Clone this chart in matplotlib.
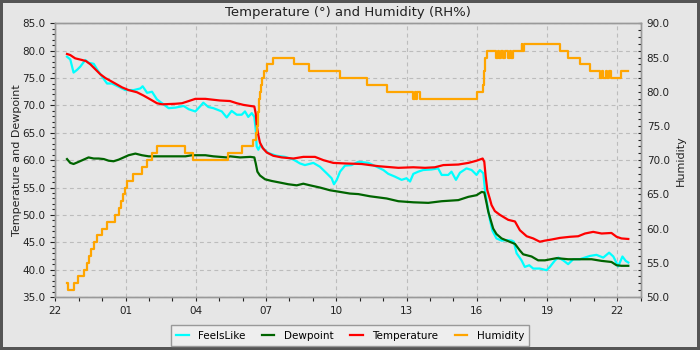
import matplotlib
matplotlib.use("Agg")
import matplotlib.pyplot as plt
from matplotlib.ticker import MultipleLocator, FormatStrFormatter

# hours since 22:00 on the first day
hour_ticks = [0, 3, 6, 9, 12, 15, 18, 21, 24]
hour_labels = ["22", "01", "04", "07", "10", "13", "16", "19", "22"]

temp_t = [0.50, 0.64, 0.85, 1.14, 1.31, 1.50, 1.71, 1.92, 2.14, 2.35, 2.56, 2.85,
          3.13, 3.49, 3.77, 4.06, 4.34, 4.56, 5.13, 5.41, 5.70, 5.98, 6.41, 6.61,
          7.03, 7.46, 7.75, 8.03, 8.33, 8.50, 8.56, 8.60, 8.67, 8.74, 8.86, 9.03,
          9.31, 9.67, 10.17, 10.59, 11.09, 11.45, 11.87, 12.37, 13.08, 13.79, 14.65,
          15.29, 15.79, 16.21, 16.57, 17.21, 17.64, 17.99, 18.25, 18.32, 18.38, 18.45,
          18.56, 18.63, 18.77, 18.99, 19.34, 19.63, 19.84, 20.13, 20.41, 20.69, 20.91,
          21.19, 21.55, 21.98, 22.33, 22.62, 22.97, 23.33, 23.75, 23.97, 24.18, 24.47]
temp_v = [79.4, 79.2, 78.6, 78.3, 78.1, 77.5, 76.6, 75.7, 75.0, 74.5, 74.0, 73.3,
          72.8, 72.4, 71.8, 71.1, 70.4, 70.2, 70.3, 70.4, 70.8, 71.2, 71.2, 71.1,
          70.9, 70.8, 70.4, 70.1, 69.9, 69.8, 68.5, 66.4, 64.6, 63.2, 62.2, 61.4,
          60.8, 60.5, 60.3, 60.6, 60.6, 60.0, 59.5, 59.4, 59.3, 58.9, 58.6,
          58.7, 58.6, 58.7, 59.1, 59.2, 59.5, 59.9, 60.3, 59.7, 57.0, 54.5,
          52.9, 51.8, 50.7, 50.0, 49.1, 48.8, 47.2, 46.1, 45.7, 45.1, 45.3,
          45.5, 45.8, 46.0, 46.1, 46.6, 46.9, 46.6, 46.7, 46.0, 45.7, 45.6]

dew_t = [0.50, 0.64, 0.78, 1.00, 1.21, 1.42, 1.64, 1.85, 2.07, 2.28, 2.49, 2.71,
         2.92, 3.13, 3.42, 3.70, 3.99, 4.42, 4.99, 5.56, 5.84, 6.41, 6.75, 7.32,
         7.46, 7.89, 8.33, 8.50, 8.56, 8.63, 8.74, 8.96, 9.24, 9.60, 9.95, 10.31,
         10.59, 10.88, 11.30, 11.73, 12.16, 12.58, 12.94, 13.44, 14.15, 14.65, 15.29,
         15.93, 16.50, 17.21, 17.64, 17.99, 18.21, 18.32, 18.42, 18.49, 18.59, 18.70,
         18.84, 19.06, 19.34, 19.63, 19.84, 19.98, 20.34, 20.62, 20.91, 21.41, 21.90,
         22.40, 22.90, 23.33, 23.75, 23.97, 24.18, 24.47]
dew_v = [60.2, 59.5, 59.3, 59.7, 60.1, 60.5, 60.3, 60.3, 60.2, 59.9, 59.8, 60.1,
         60.5, 60.9, 61.2, 60.9, 60.7, 60.7, 60.7, 60.7, 60.9, 60.9, 60.7, 60.5,
         60.7, 60.5, 60.6, 60.5, 59.4, 57.9, 57.2, 56.5, 56.2, 55.9, 55.6, 55.4,
         55.7, 55.4, 55.0, 54.5, 54.2, 53.9, 53.8, 53.4, 53.0, 52.5, 52.3,
         52.2, 52.5, 52.7, 53.3, 53.6, 54.2, 54.1, 52.1, 50.6, 49.1, 47.5,
         46.5, 45.7, 45.2, 44.7, 43.5, 42.8, 42.4, 41.7, 41.7, 42.1, 41.9,
         41.9, 41.9, 41.6, 41.4, 40.8, 40.7, 40.7]

feels_t = [0.50, 0.64, 0.78, 0.93, 1.07, 1.28, 1.42, 1.64, 1.78, 1.99, 2.21, 2.42,
           2.71, 2.99, 3.35, 3.63, 3.73, 3.92, 4.13, 4.34, 4.56, 4.84, 5.13, 5.48,
           5.70, 5.98, 6.20, 6.32, 6.54, 6.75, 7.11, 7.32, 7.53, 7.75, 7.96, 8.10,
           8.24, 8.39, 8.50, 8.56, 8.60, 8.67, 8.77, 8.91, 9.10, 9.45, 9.81, 10.17,
           10.45, 10.66, 11.02, 11.30, 11.59, 11.80, 11.90, 12.02, 12.16, 12.37, 12.65,
           12.94, 13.37, 13.72, 14.01, 14.22, 14.50, 14.79, 15.00, 15.15, 15.29, 15.50,
           15.71, 16.07, 16.35, 16.50, 16.78, 16.92, 17.11, 17.28, 17.56, 17.78, 17.99,
           18.13, 18.28, 18.35, 18.46, 18.56, 18.67, 18.84, 19.06, 19.27, 19.49, 19.58,
           19.70, 19.91, 20.05, 20.24, 20.41, 20.69, 20.98, 21.12, 21.34, 21.48, 21.69,
           21.90, 22.12, 22.40, 22.83, 23.11, 23.40, 23.65, 23.83, 24.04, 24.22, 24.36,
           24.47]
feels_v = [78.9, 78.4, 76.0, 76.5, 77.1, 78.3, 77.8, 77.6, 76.6, 75.3, 74.0, 74.0,
           73.4, 72.8, 72.8, 73.1, 73.5, 72.3, 72.5, 71.1, 70.4, 69.5, 69.6, 69.9,
           69.3, 68.9, 69.9, 70.5, 69.7, 69.5, 68.9, 67.8, 69.0, 68.3, 68.3, 68.9,
           67.9, 68.6, 67.9, 65.5, 62.5, 61.9, 62.8, 62.0, 61.3, 60.8, 60.6, 60.1,
           59.4, 59.1, 59.5, 58.8, 57.6, 56.7, 55.6, 56.4, 57.9, 59.0, 59.1,
           59.7, 59.5, 58.8, 58.2, 57.5, 57.0, 56.4, 56.7, 56.1, 57.5, 57.9,
           58.2, 58.3, 58.5, 57.3, 57.3, 57.9, 56.4, 57.7, 58.5, 58.2, 57.3,
           58.2, 57.6, 54.5, 51.5, 49.1, 47.1, 45.7, 45.3, 45.4, 45.3, 45.1,
           43.0, 41.7, 40.5, 40.8, 40.2, 40.2, 39.9, 40.5, 41.7, 42.2, 41.7,
           41.0, 41.9, 41.9, 42.5, 42.7, 42.2, 43.1, 42.4, 40.6, 42.4, 41.6,
           41.3]

# humidity changes in whole percent, held until the next reading
hum_t = [0.49, 0.53, 0.80, 0.98, 1.23, 1.37, 1.42, 1.52, 1.65, 1.80, 2.00, 2.20,
         2.55, 2.72, 2.80, 2.88, 2.97, 3.05, 3.33, 3.70, 3.92, 4.15, 4.33, 5.54,
         5.87, 7.39, 7.96, 8.46, 8.57, 8.61, 8.64, 8.67, 8.70, 8.72, 8.75, 8.78,
         8.83, 8.91, 9.03, 9.28, 10.19, 10.85, 12.16, 13.30, 14.15, 15.26, 15.38,
         15.42, 15.45, 15.56, 18.03, 18.25, 18.32, 18.36, 18.42, 18.84, 18.90, 18.95,
         19.05, 19.10, 19.20, 19.34, 19.40, 19.45, 19.55, 19.91, 19.95, 20.00, 21.55,
         21.90, 22.40, 22.83, 23.26, 23.35, 23.40, 23.50, 23.58, 23.65, 23.72, 24.15,
         24.47]
hum_v = [52, 51, 52, 53, 54, 55, 56, 57, 58, 59, 60, 61,
         62, 63, 64, 65, 66, 67, 68, 69, 70, 71, 72, 71,
         70, 71, 72, 73, 74, 75, 76, 77, 78, 79, 80, 81,
         82, 83, 84, 85, 84, 83, 82, 81, 80, 79, 80,
         79, 80, 79, 80, 81, 83, 85, 86, 85, 86, 85,
         86, 85, 86, 85, 86, 85, 86, 87, 86, 87, 86,
         85, 84, 83, 82, 83, 82, 83, 82, 83, 82, 83,
         83]

bg = "#e6e6e6"
fig = plt.figure(figsize=(7, 3.5), dpi=100, facecolor=bg, edgecolor="#555555", linewidth=3)
ax = fig.add_axes([0.079, 0.1514, 0.8363, 0.782], facecolor=bg)
ax2 = ax.twinx()

l1, = ax.plot(feels_t, feels_v, color="#00ffff", lw=1.6, label="FeelsLike")
l2, = ax.plot(dew_t, dew_v, color="#006400", lw=1.6, label="Dewpoint")
l3, = ax.plot(temp_t, temp_v, color="#ff0000", lw=1.6, label="Temperature")
l4, = ax2.plot(hum_t, hum_v, color="#ffa500", lw=1.6, drawstyle="steps-post", label="Humidity")

ax.set_xlim(0, 25)
ax.set_ylim(35, 85)
ax2.set_ylim(50, 90)

ax.set_xticks(hour_ticks)
ax.set_xticklabels(hour_labels)
ax.xaxis.set_minor_locator(MultipleLocator(1))
ax.yaxis.set_major_locator(MultipleLocator(5))
ax.yaxis.set_minor_locator(MultipleLocator(1))
ax.yaxis.set_major_formatter(FormatStrFormatter("%.1f"))
ax2.yaxis.set_major_locator(MultipleLocator(5))
ax2.yaxis.set_minor_locator(MultipleLocator(1))
ax2.yaxis.set_major_formatter(FormatStrFormatter("%.1f"))

ax.grid(True, which="major", color="#bcbcbc", lw=0.8, linestyle=(0, (3.5, 3)))
ax.set_axisbelow(True)

for a in (ax, ax2):
    for s in a.spines.values():
        s.set_color("#999999")
        s.set_linewidth(1.0)

ax.tick_params(axis="y", which="major", length=3.6, width=0.8, pad=3.6, labelsize=7.5, colors="#222222")
ax.tick_params(axis="y", which="minor", length=2.2, width=0.8, colors="#222222")
ax.tick_params(axis="x", which="both", length=2.9, width=0.8, pad=3.6, labelsize=7.5, colors="#222222")
ax2.tick_params(axis="y", which="major", direction="in", length=2.5, width=0.8, pad=4.3,
                labelsize=7.5, colors="#222222")
ax2.tick_params(axis="y", which="minor", direction="in", length=2.0, width=0.8, colors="#222222")

ax.set_title("Temperature (°) and Humidity (RH%)", fontsize=9.5, pad=5, color="#222222")
ax.set_ylabel("Temperature and Dewpoint", fontsize=8, color="#222222")
ax.yaxis.set_label_coords(-0.057, 0.5)
ax2.set_ylabel("Humidity", fontsize=8, color="#222222")
ax2.yaxis.set_label_coords(1.060, 0.5)

leg = fig.legend([l1, l2, l3, l4], ["FeelsLike", "Dewpoint", "Temperature", "Humidity"],
                 loc="lower center", bbox_to_anchor=(0.5, -0.003), ncol=4, fontsize=7.5,
                 frameon=True, fancybox=False, edgecolor="#999999", facecolor="#eeeeee",
                 framealpha=1, handlelength=1.2, handletextpad=0.9, columnspacing=1.6,
                 borderpad=0.5)
leg.get_frame().set_linewidth(1.0)

fig.savefig("out.png", dpi=100, facecolor=fig.get_facecolor(), edgecolor=fig.get_edgecolor())
